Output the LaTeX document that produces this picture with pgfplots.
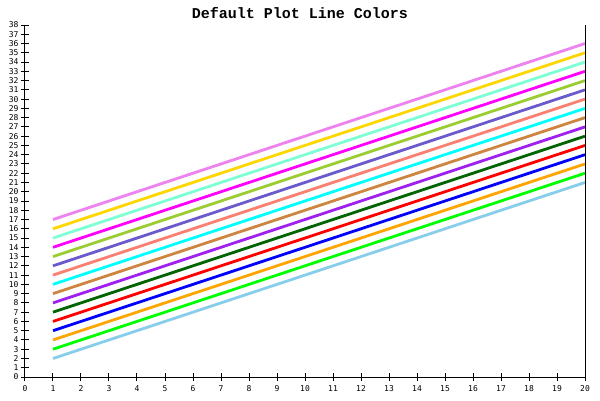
\documentclass[border=0pt]{standalone}
\usepackage{pgfplots}
\usepackage{pgfplotstable}
\pgfplotsset{compat=1.18}
\usepackage{fontspec}
\setmainfont{DejaVu Sans Mono}
\newfontfamily\titlefont{Liberation Mono}
\definecolor{c1}{RGB}{135,206,235}
\definecolor{c2}{RGB}{0,255,0}
\definecolor{c3}{RGB}{255,165,0}
\definecolor{c4}{RGB}{0,0,255}
\definecolor{c5}{RGB}{255,0,0}
\definecolor{c6}{RGB}{0,100,0}
\definecolor{c7}{RGB}{160,32,240}
\definecolor{c8}{RGB}{205,133,63}
\definecolor{c9}{RGB}{0,255,255}
\definecolor{c10}{RGB}{250,128,114}
\definecolor{c11}{RGB}{106,90,205}
\definecolor{c12}{RGB}{154,205,50}
\definecolor{c13}{RGB}{255,0,255}
\definecolor{c14}{RGB}{127,255,212}
\definecolor{c15}{RGB}{255,215,0}
\definecolor{c16}{RGB}{238,130,238}
\pgfplotstableread{
x  s1 s2 s3 s4 s5 s6 s7 s8 s9 s10 s11 s12 s13 s14 s15 s16
1  2  3  4  5  6  7  8  9  10 11  12  13  14  15  16  17
2  3  4  5  6  7  8  9  10 11 12  13  14  15  16  17  18
3  4  5  6  7  8  9  10 11 12 13  14  15  16  17  18  19
4  5  6  7  8  9  10 11 12 13 14  15  16  17  18  19  20
5  6  7  8  9  10 11 12 13 14 15  16  17  18  19  20  21
6  7  8  9  10 11 12 13 14 15 16  17  18  19  20  21  22
7  8  9  10 11 12 13 14 15 16 17  18  19  20  21  22  23
8  9  10 11 12 13 14 15 16 17 18  19  20  21  22  23  24
9  10 11 12 13 14 15 16 17 18 19  20  21  22  23  24  25
10 11 12 13 14 15 16 17 18 19 20  21  22  23  24  25  26
11 12 13 14 15 16 17 18 19 20 21  22  23  24  25  26  27
12 13 14 15 16 17 18 19 20 21 22  23  24  25  26  27  28
13 14 15 16 17 18 19 20 21 22 23  24  25  26  27  28  29
14 15 16 17 18 19 20 21 22 23 24  25  26  27  28  29  30
15 16 17 18 19 20 21 22 23 24 25  26  27  28  29  30  31
16 17 18 19 20 21 22 23 24 25 26  27  28  29  30  31  32
17 18 19 20 21 22 23 24 25 26 27  28  29  30  31  32  33
18 19 20 21 22 23 24 25 26 27 28  29  30  31  32  33  34
19 20 21 22 23 24 25 26 27 28 29  30  31  32  33  34  35
20 21 22 23 24 25 26 27 28 29 30  31  32  33  34  35  36
}\datatable
\begin{document}
\begin{tikzpicture}[x=1pt,y=1pt]
\useasboundingbox (0,0) rectangle (600,400);
\fill[white] (0,0) rectangle (600,400);
\node[font=\titlefont\bfseries\fontsize{15}{15}\selectfont] at (300,386.5) {Default Plot Line Colors};
\begin{axis}[
  at={(25pt,23pt)}, anchor=south west,
  scale only axis, width=560pt, height=352pt,
  xmin=0, xmax=20, ymin=0, ymax=38,
  axis x line*=bottom, axis y line*=left,
  axis line style={line width=1pt, -},
  xtick={0,...,20}, ytick={0,...,38},
  tick align=center, major tick length=8pt,
  tick style={line width=1pt, black},
  /pgf/number format/assume math mode=true,
  tick label style={font=\fontsize{8}{8}\selectfont},
  xticklabel style={yshift=-1pt},
  yticklabel style={xshift=1pt},
  clip=false,
]
\pgfplotsinvokeforeach{1,...,16}{
  \addplot[color=c#1, line width=2.8pt, line cap=butt] table[x=x, y=s#1] {\datatable};
}
\draw[line width=1pt] (rel axis cs:1,0) -- (rel axis cs:1,1);
\end{axis}
\end{tikzpicture}
\end{document}
